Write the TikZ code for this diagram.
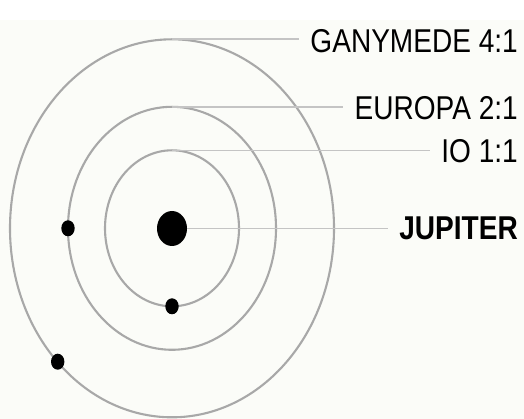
\documentclass[tikz,border=0pt]{standalone}
\usepackage{fontspec}
\usepackage{graphicx}
\setmainfont{Liberation Sans}
\usetikzlibrary{shapes.geometric}
\definecolor{bgcol}{RGB}{251,252,248}
\definecolor{orbitcol}{RGB}{168,168,168}
\definecolor{leadcol}{RGB}{196,196,196}
\tikzset{
  orbit/.style={draw=orbitcol, line width=2.1pt},
  leader/.style={draw=leadcol, line width=1.7pt},
  moon/.style={ellipse, fill=black, minimum width=13.4pt, minimum height=16pt, inner sep=0pt},
  lbl/.style={anchor=base east, inner xsep=11pt, inner ysep=0pt, font=\fontsize{33}{33}\selectfont}
}
\newcommand{\cond}[1]{\scalebox{0.85}[1]{#1}}
\begin{document}
\begin{tikzpicture}[x=1pt,y=-1pt]
\useasboundingbox (0,0) rectangle (524,419);
\fill[white] (0,0) rectangle (524,419);
\fill[bgcol] (0,20) rectangle (524,419);
% orbits
\draw[orbit] (172,228.3) ellipse [x radius=162, y radius=189];
\draw[orbit] (172,228.3) ellipse [x radius=104, y radius=121.5];
\draw[orbit] (172,228.3) ellipse [x radius=67, y radius=78];
% top points of orbits
\coordinate (gtop) at (172,39.3);
\coordinate (etop) at (172,106.8);
\coordinate (itop) at (172,150.5);
% labels
\node[lbl] (gany) at (529,53) {\cond{GANYMEDE 4:1}};
\node[lbl] (euro) at (529,120) {\cond{EUROPA 2:1}};
\node[lbl] (io) at (529,163) {\cond{IO 1:1}};
\node[lbl] (jup) at (529,240) {\cond{\bfseries JUPITER}};
% Jupiter and moons
\node[ellipse, fill=black, minimum width=30pt, minimum height=35pt, inner sep=0pt] (jupiter) at (172,228.5) {};
\node[moon] (europa) at (68,228.3) {};
\node[moon] (iomoon) at (172,306.3) {};
\node[moon] (ganymede) at (57.7,361.7) {};
% leaders
\draw[leader] (gtop) -- (gtop -| gany.west);
\draw[leader] (etop) -- (etop -| euro.west);
\draw[leader] (itop) -- (itop -| io.west);
\draw[leader] (jupiter.east) -- (jupiter.east -| jup.west);
\end{tikzpicture}
\end{document}
